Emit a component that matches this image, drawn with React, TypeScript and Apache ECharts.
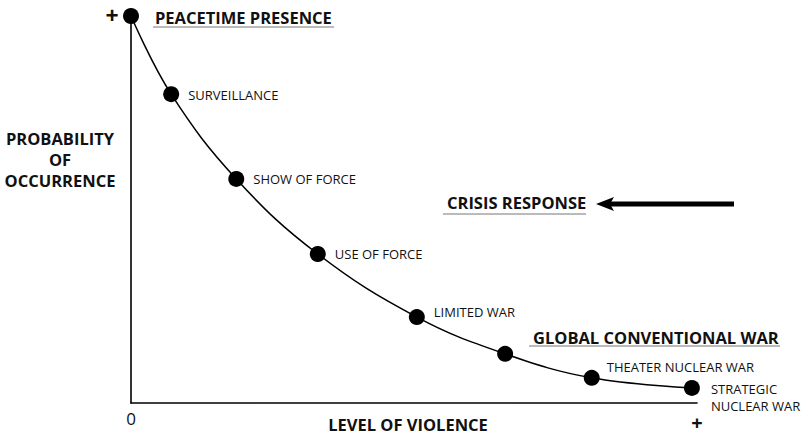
import React, { useEffect, useRef } from "react";
import * as echarts from "echarts";

const levels = [0, 7.1, 18.6, 33.0, 50.5, 66.1, 81.4, 99.1];
const probability = [100, 79.8, 57.9, 38.5, 22.2, 12.7, 6.5, 3.9];
const pointLabels = [
  "",
  "SURVEILLANCE",
  "SHOW OF FORCE",
  "USE OF FORCE",
  "LIMITED WAR",
  "",
  "THEATER NUCLEAR WAR",
  "STRATEGIC\nNUCLEAR WAR",
];
const headings = ["PEACETIME PRESENCE", "CRISIS RESPONSE", "GLOBAL CONVENTIONAL WAR"];
const yAxisTitle = "PROBABILITY\nOF\nOCCURRENCE";
const xAxisTitle = "LEVEL OF VIOLENCE";

const FONT = "'Open Sans', 'Noto Sans', sans-serif";

export default function App() {
  const ref = useRef<HTMLDivElement>(null);
  useEffect(() => {
    if (!ref.current) return;
    const chart = echarts.init(ref.current, undefined, { renderer: "svg" });
    const labelOffsets: [number, number][] = [
      [0, 0],
      [4, 1],
      [4, 0],
      [4, 0],
      [4, -5],
      [0, 0],
      [2, -11],
      [6, 10],
    ];
    const data = levels.map((x, i) => ({
      value: [x, probability[i]],
      label: {
        show: pointLabels[i] !== "",
        formatter: pointLabels[i],
        position: "right",
        offset: labelOffsets[i],
        fontSize: 13,
        lineHeight: 17,
        color: "#111",
        fontFamily: FONT,
      },
    }));
    const headStyle = {
      fontSize: 16.5,
      fontWeight: "bold",
      fontFamily: FONT,
      fill: "#111",
      verticalAlign: "middle",
    };
    const under = (x1: number, x2: number, y: number) => ({
      type: "line",
      shape: { x1, y1: y, x2, y2: y },
      style: { stroke: "#777", lineWidth: 1 },
    });
    chart.setOption({
      animation: false,
      backgroundColor: "#fff",
      grid: { left: 131, right: 111, top: 16, bottom: 31 },
      xAxis: {
        type: "value",
        min: 0,
        max: 100,
        axisLine: { show: true, lineStyle: { color: "#000", width: 1.6 } },
        axisTick: { show: false },
        axisLabel: { show: false },
        splitLine: { show: false },
      },
      yAxis: {
        type: "value",
        min: 0,
        max: 100,
        axisLine: { show: true, lineStyle: { color: "#000", width: 1.6 } },
        axisTick: { show: false },
        axisLabel: { show: false },
        splitLine: { show: false },
      },
      series: [
        {
          type: "line",
          data,
          smooth: 0.4,
          symbol: "circle",
          symbolSize: 16,
          itemStyle: { color: "#000" },
          lineStyle: { color: "#000", width: 1.5 },
        },
      ],
      graphic: [
        { type: "text", x: 155, y: 17, style: { ...headStyle, text: headings[0] } },
        under(153, 334, 27),
        { type: "text", x: 447, y: 202, style: { ...headStyle, text: headings[1] } },
        under(443, 586, 214),
        { type: "text", x: 533, y: 337, style: { ...headStyle, text: headings[2] } },
        under(529, 780, 346),
        { type: "line", shape: { x1: 608, y1: 204, x2: 734, y2: 204 }, style: { stroke: "#000", lineWidth: 5 } },
        { type: "polygon", shape: { points: [[596, 204], [614, 197], [610, 204], [614, 211]] }, style: { fill: "#000" } },
        {
          type: "text",
          x: 60,
          y: 159,
          style: { ...headStyle, text: yAxisTitle, align: "center", lineHeight: 21 },
        },
        { type: "text", x: 408, y: 424, style: { ...headStyle, text: xAxisTitle, align: "center" } },
        { type: "text", x: 131, y: 418, style: { fontSize: 17, fontFamily: FONT, fill: "#111", text: "0", align: "center", verticalAlign: "middle" } },
        { type: "text", x: 697, y: 422, style: { fontSize: 20, fontWeight: "bold", fontFamily: FONT, fill: "#111", text: "+", align: "center", verticalAlign: "middle" } },
        { type: "text", x: 112, y: 15, style: { fontSize: 23, fontWeight: "bold", fontFamily: FONT, fill: "#111", text: "+", align: "center", verticalAlign: "middle" } },
      ],
    });
    return () => chart.dispose();
  }, []);
  return (
    <div
      ref={ref}
      style={{ position: "fixed", left: 0, top: 0, width: 808, height: 434 }}
    />
  );
}
